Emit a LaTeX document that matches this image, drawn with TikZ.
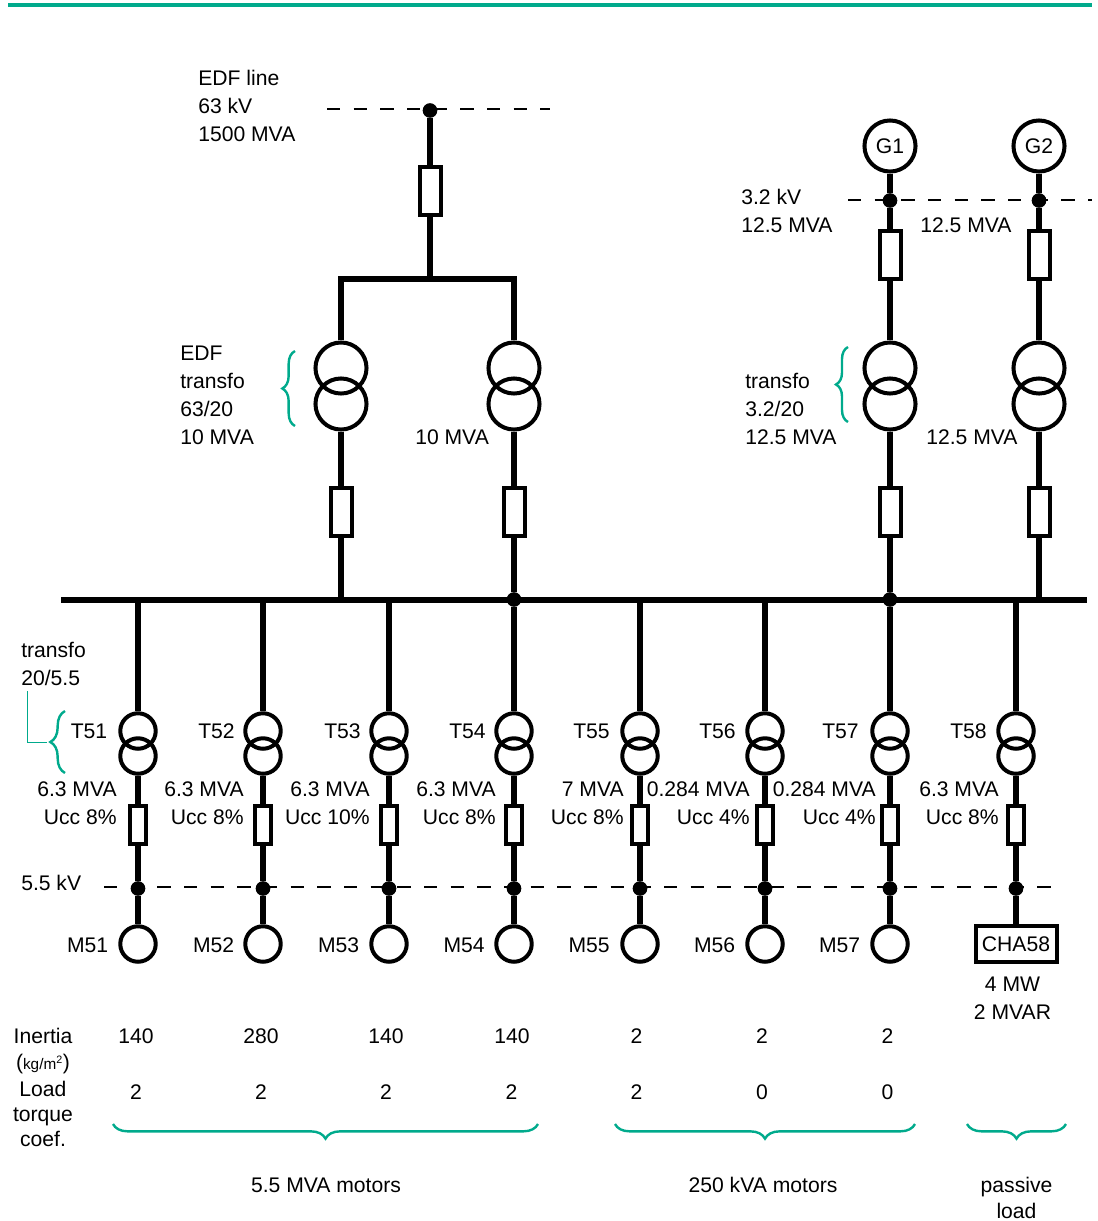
\documentclass[tikz,border=0pt]{standalone}
\usepackage{fontspec}
\setmainfont{Liberation Sans}
\usetikzlibrary{decorations.pathreplacing}
\definecolor{tealbrace}{RGB}{0,170,140}
\tikzset{
	conn/.style={line width=4pt},
	busbar/.style={line width=4.9pt},
	dashline/.style={line width=1.4pt, dash pattern=on 10pt off 10pt},
	bigcirc/.style={draw, circle, line width=3pt, inner sep=0pt, minimum size=38.3pt},
	smallcirc/.style={draw, circle, line width=3pt, inner sep=0pt, minimum size=26.6pt},
	bigbrk/.style={draw, rectangle, line width=3pt, inner sep=0pt, minimum width=15.75pt, minimum height=36pt},
	smallbrk/.style={draw, rectangle, line width=3pt, inner sep=0pt, minimum width=12.4pt, minimum height=28.5pt},
	junct/.style={circle, fill=black, inner sep=0pt, minimum size=11pt},
	lbl/.style={inner sep=0pt, align=left, anchor=west},
	rlbl/.style={inner sep=0pt, align=right, anchor=east},
	clbl/.style={inner sep=0pt, align=center},
	tbrace/.style={tealbrace, line width=1.8pt, decorate, decoration={brace, amplitude=#1}},
	mbrace/.style={tealbrace, line width=1.8pt, decorate, decoration={brace, mirror, amplitude=#1}}
}
\begin{document}
\begin{tikzpicture}[x=0.75pt, y=-0.75pt, font=\fontsize{15.85}{21}\selectfont]
	 \useasboundingbox (0,0) rectangle (1098,1221);
	 %
	 %top rule
	 \coordinate (ruleL) at (8,5);
	 \coordinate (ruleR) at (1092,5);
	 \draw[tealbrace, line width=3pt] (ruleL) -- (ruleR);
	 %
	 %EDF line
	 \coordinate (edfL) at (327,109);
	 \coordinate (edfR) at (550,109);
	 \draw[dashline] (edfL) -- (edfR);
	 \node (edfdot) at (430,110.5) [junct] {};
	 \node (Qedf) at (430,190.7) [bigbrk] {};
	 \coordinate (edftee) at (430,279);
	 \coordinate (edfcnrA) at (341,279);
	 \coordinate (edfcnrB) at (514,279);
	 \node (edftxt) at (198,106) [lbl] {EDF line\\63 kV\\1500 MVA};
	 %
	 %EDF transfos
	 \node (TAup) at (341,368) [bigcirc] {};
	 \node (TAlo) at (341,404) [bigcirc] {};
	 \node (TBup) at (514,368) [bigcirc] {};
	 \node (TBlo) at (514,404) [bigcirc] {};
	 \node (QA) at (341,511.7) [bigbrk] {};
	 \node (QB) at (514,511.7) [bigbrk] {};
	 \node (TAtxt) at (180,395) [lbl] {EDF\\transfo\\63/20\\10 MVA};
	 \node (TBtxt) at (415,437) [lbl] {10 MVA};
	 %
	 %generators
	 \node (G1) at (890,146) [bigcirc] {G1};
	 \node (G2) at (1039,146) [bigcirc] {G2};
	 \node (gdotA) at (890,200.5) [junct] {};
	 \node (gdotB) at (1039,200.5) [junct] {};
	 \coordinate (genL) at (848,200);
	 \coordinate (genR) at (1092,200);
	 \node (QG1) at (890,254.7) [bigbrk] {};
	 \node (QG2) at (1039,254.7) [bigbrk] {};
	 \node (TCup) at (890,368) [bigcirc] {};
	 \node (TClo) at (890,404) [bigcirc] {};
	 \node (TDup) at (1039,368) [bigcirc] {};
	 \node (TDlo) at (1039,404) [bigcirc] {};
	 \node (QC) at (890,511.7) [bigbrk] {};
	 \node (QD) at (1039,511.7) [bigbrk] {};
	 \node (G1txt) at (741,211) [lbl] {3.2 kV\\12.5 MVA};
	 \node (G2txt) at (920,225) [lbl] {12.5 MVA};
	 \node (TCtxt) at (745,409) [lbl] {transfo\\3.2/20\\12.5 MVA};
	 \node (TDtxt) at (926,437) [lbl] {12.5 MVA};
	 %
	 %main bus
	 \coordinate (busL) at (61,600);
	 \coordinate (busR) at (1087,600);
	 \node (busdotB) at (514,599.5) [junct] {};
	 \node (busdotC) at (890,599.5) [junct] {};
	 \coordinate (busA) at (341,600);
	 \coordinate (busD) at (1039,600);
	 \coordinate (bus51) at (138,600);
	 \coordinate (bus52) at (263,600);
	 \coordinate (bus53) at (389,600);
	 \coordinate (bus55) at (640,600);
	 \coordinate (bus56) at (765,600);
	 \coordinate (bus58) at (1016,600);
	 %
	 %T51
	 \node (T51up) at (138,731) [smallcirc] {};
	 \node (T51lo) at (138,756) [smallcirc] {};
	 \node (Q51) at (138,825) [smallbrk] {};
	 \node (J51) at (138,888.5) [junct] {};
	 \node (M51) at (138,944) [smallcirc] {};
	 \node (T51txt) at (107.5,731) [rlbl] {T51};
	 \node (T51dat) at (117,803) [rlbl] {6.3 MVA\\Ucc 8\%};
	 \node (M51txt) at (108.5,945) [rlbl] {M51};
	 %
	 %T52
	 \node (T52up) at (263,731) [smallcirc] {};
	 \node (T52lo) at (263,756) [smallcirc] {};
	 \node (Q52) at (263,825) [smallbrk] {};
	 \node (J52) at (263,888.5) [junct] {};
	 \node (M52) at (263,944) [smallcirc] {};
	 \node (T52txt) at (235,731) [rlbl] {T52};
	 \node (T52dat) at (244,803) [rlbl] {6.3 MVA\\Ucc 8\%};
	 \node (M52txt) at (234.5,945) [rlbl] {M52};
	 %
	 %T53
	 \node (T53up) at (389,731) [smallcirc] {};
	 \node (T53lo) at (389,756) [smallcirc] {};
	 \node (Q53) at (389,825) [smallbrk] {};
	 \node (J53) at (389,888.5) [junct] {};
	 \node (M53) at (389,944) [smallcirc] {};
	 \node (T53txt) at (361,731) [rlbl] {T53};
	 \node (T53dat) at (370,803) [rlbl] {6.3 MVA\\Ucc 10\%};
	 \node (M53txt) at (359.5,945) [rlbl] {M53};
	 %
	 %T54
	 \node (T54up) at (514,731) [smallcirc] {};
	 \node (T54lo) at (514,756) [smallcirc] {};
	 \node (Q54) at (514,825) [smallbrk] {};
	 \node (J54) at (514,888.5) [junct] {};
	 \node (M54) at (514,944) [smallcirc] {};
	 \node (T54txt) at (486,731) [rlbl] {T54};
	 \node (T54dat) at (496,803) [rlbl] {6.3 MVA\\Ucc 8\%};
	 \node (M54txt) at (485,945) [rlbl] {M54};
	 %
	 %T55
	 \node (T55up) at (640,731) [smallcirc] {};
	 \node (T55lo) at (640,756) [smallcirc] {};
	 \node (Q55) at (640,825) [smallbrk] {};
	 \node (J55) at (640,888.5) [junct] {};
	 \node (M55) at (640,944) [smallcirc] {};
	 \node (T55txt) at (610,731) [rlbl] {T55};
	 \node (T55dat) at (624,803) [rlbl] {7 MVA\\Ucc 8\%};
	 \node (M55txt) at (610,945) [rlbl] {M55};
	 %
	 %T56
	 \node (T56up) at (765,731) [smallcirc] {};
	 \node (T56lo) at (765,756) [smallcirc] {};
	 \node (Q56) at (765,825) [smallbrk] {};
	 \node (J56) at (765,888.5) [junct] {};
	 \node (M56) at (765,944) [smallcirc] {};
	 \node (T56txt) at (736,731) [rlbl] {T56};
	 \node (T56dat) at (750,803) [rlbl] {0.284 MVA\\Ucc 4\%};
	 \node (M56txt) at (735.5,945) [rlbl] {M56};
	 %
	 %T57
	 \node (T57up) at (890,731) [smallcirc] {};
	 \node (T57lo) at (890,756) [smallcirc] {};
	 \node (Q57) at (890,825) [smallbrk] {};
	 \node (J57) at (890,888.5) [junct] {};
	 \node (M57) at (890,944) [smallcirc] {};
	 \node (T57txt) at (859,731) [rlbl] {T57};
	 \node (T57dat) at (876,803) [rlbl] {0.284 MVA\\Ucc 4\%};
	 \node (M57txt) at (860.5,945) [rlbl] {M57};
	 %
	 %T58
	 \node (T58up) at (1016,731) [smallcirc] {};
	 \node (T58lo) at (1016,756) [smallcirc] {};
	 \node (Q58) at (1016,825) [smallbrk] {};
	 \node (J58) at (1016,888.5) [junct] {};
	 \node (CHA58) at (1016,944) [draw, line width=3pt, inner sep=0pt, minimum width=60.75pt, minimum height=27.5pt] {CHA58};
	 \node (T58txt) at (987,731) [rlbl] {T58};
	 \node (T58dat) at (999,803) [rlbl] {6.3 MVA\\Ucc 8\%};
	 \node (CHAtxt) at (1012.5,998) [clbl] {4 MW\\2 MVAR};
	 %
	 \node (kvtxt) at (21,883) [lbl] {5.5 kV};
	 \node (t20txt) at (21,664) [lbl] {transfo\\20/5.5};
	 \coordinate (mvL) at (104,887);
	 \coordinate (mvR) at (1052,887);
	 %
	 %table
	 \node (inertia) at (43,1036) [clbl] {Inertia};
	 \node (kgtxt) at (43,1064) [clbl] {(\fontsize{11.5}{11}\selectfont kg/m\textsuperscript{2}\fontsize{15.85}{21}\selectfont)};
	 \node (loadtxt) at (43,1114) [clbl] {Load\\[-2.1pt]torque\\[-2.1pt]coef.};
	 \node (i51) at (136,1036) [clbl] {140};
	 \node (i52) at (261,1036) [clbl] {280};
	 \node (i53) at (386,1036) [clbl] {140};
	 \node (i54) at (512,1036) [clbl] {140};
	 \node (i55) at (636.5,1036) [clbl] {2};
	 \node (i56) at (762,1036) [clbl] {2};
	 \node (i57) at (887.5,1036) [clbl] {2};
	 \node (c51) at (136,1092) [clbl] {2};
	 \node (c52) at (261,1092) [clbl] {2};
	 \node (c53) at (386,1092) [clbl] {2};
	 \node (c54) at (511.5,1092) [clbl] {2};
	 \node (c55) at (636.5,1092) [clbl] {2};
	 \node (c56) at (762,1092) [clbl] {0};
	 \node (c57) at (887.5,1092) [clbl] {0};
	 \node (grpA) at (326,1185) [clbl] {5.5 MVA motors};
	 \node (grpB) at (763,1185) [clbl] {250 kVA motors};
	 \node (grpC) at (1016.5,1198) [clbl] {passive\\[-2pt]load};
	 %
	 %dashed voltage levels
	 \draw[dashline] (genL) -- (genR);
	 \draw[dashline] (mvL) -- (mvR);
	 %
	 %main bus
	 \draw[busbar] (busL) -- (busR);
	 %
	 %EDF line - bus
	 \draw[conn] (edfdot) -- (Qedf);
	 \draw[conn] (Qedf) -- (edftee);
	 \draw[conn] (TAup) -- (edfcnrA) -- (edfcnrB) -- (TBup);
	 \draw[conn] (TAlo) -- (QA);
	 \draw[conn] (TBlo) -- (QB);
	 \draw[conn] (QA) -- (busA);
	 \draw[conn] (QB) -- (busdotB);
	 %
	 %G1 - bus
	 \draw[conn] (G1) -- (gdotA);
	 \draw[conn] (gdotA) -- (QG1);
	 \draw[conn] (QG1) -- (TCup);
	 \draw[conn] (TClo) -- (QC);
	 \draw[conn] (QC) -- (busdotC);
	 %
	 %G2 - bus
	 \draw[conn] (G2) -- (gdotB);
	 \draw[conn] (gdotB) -- (QG2);
	 \draw[conn] (QG2) -- (TDup);
	 \draw[conn] (TDlo) -- (QD);
	 \draw[conn] (QD) -- (busD);
	 %
	 %bus - feeders
	 \draw[conn] (bus51) -- (T51up);
	 \draw[conn] (bus52) -- (T52up);
	 \draw[conn] (bus53) -- (T53up);
	 \draw[conn] (busdotB) -- (T54up);
	 \draw[conn] (bus55) -- (T55up);
	 \draw[conn] (bus56) -- (T56up);
	 \draw[conn] (busdotC) -- (T57up);
	 \draw[conn] (bus58) -- (T58up);
	 %
	 %transfo - motor
	 \draw[conn] (T51lo) -- (Q51);
	 \draw[conn] (Q51) -- (J51);
	 \draw[conn] (J51) -- (M51);
	 \draw[conn] (T52lo) -- (Q52);
	 \draw[conn] (Q52) -- (J52);
	 \draw[conn] (J52) -- (M52);
	 \draw[conn] (T53lo) -- (Q53);
	 \draw[conn] (Q53) -- (J53);
	 \draw[conn] (J53) -- (M53);
	 \draw[conn] (T54lo) -- (Q54);
	 \draw[conn] (Q54) -- (J54);
	 \draw[conn] (J54) -- (M54);
	 \draw[conn] (T55lo) -- (Q55);
	 \draw[conn] (Q55) -- (J55);
	 \draw[conn] (J55) -- (M55);
	 \draw[conn] (T56lo) -- (Q56);
	 \draw[conn] (Q56) -- (J56);
	 \draw[conn] (J56) -- (M56);
	 \draw[conn] (T57lo) -- (Q57);
	 \draw[conn] (Q57) -- (J57);
	 \draw[conn] (J57) -- (M57);
	 \draw[conn] (T58lo) -- (Q58);
	 \draw[conn] (Q58) -- (J58);
	 \draw[conn] (J58) -- (CHA58);
	 %
	 %braces
	 \draw[tbrace=9.5pt] (295,426) -- (295,351);
	 \draw[tbrace=9pt] (848,422) -- (848,347);
	 \draw[tbrace=11pt] (65,773) -- (65,711);
	 \draw[mbrace=11pt] (113,1124) -- (538,1124);
	 \draw[mbrace=11pt] (615,1124) -- (915,1124);
	 \draw[mbrace=11pt] (967,1124) -- (1066,1124);
	 %
	 %leader of the T51 brace
	 \coordinate (leadtop) at (27,691);
	 \coordinate (leadmid) at (27,742);
	 \coordinate (leadend) at (47,742);
	 \draw[tealbrace, line width=0.6pt] (leadtop) -- (leadmid) -- (leadend);
\end{tikzpicture}
\end{document}
